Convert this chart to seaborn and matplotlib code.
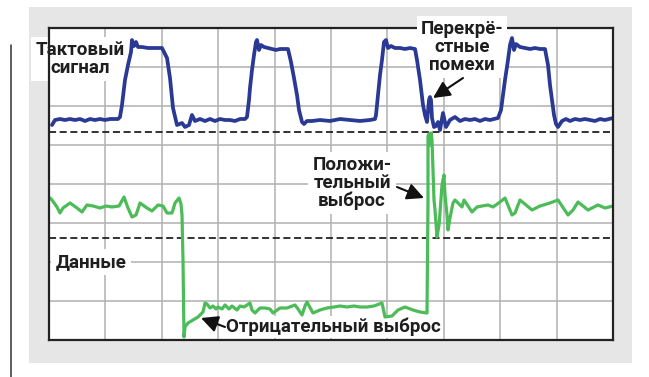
import numpy as np
import pandas as pd
import matplotlib
matplotlib.use("Agg")
import matplotlib.pyplot as plt
from matplotlib.patches import Rectangle
from matplotlib.lines import Line2D
import seaborn as sns

# Oscilloscope capture, samples as (time ns, level mV)
clock_samples = [
    (3, 215), (6, 220), (11, 221), (16, 220), (21, 221), (26, 220), (31, 221),
    (36, 219), (41, 221), (46, 220), (51, 221), (56, 220), (61, 221), (69, 221),
    (71, 223), (73, 235), (76, 260), (79, 275), (82, 288), (83, 300), (85, 294),
    (87, 298), (89, 293), (93, 293), (99, 292), (106, 292), (113, 292), (115, 288),
    (118, 282), (121, 262), (124, 232), (128, 215), (133, 217), (136, 213),
    (140, 215), (143, 225), (146, 219), (151, 221), (156, 219), (161, 221),
    (166, 219), (171, 221), (176, 220), (181, 220), (186, 219), (191, 221),
    (196, 221), (198, 223), (200, 240), (201, 252), (203, 270), (205, 285),
    (207, 298), (208, 300), (210, 290), (212, 295), (215, 293), (219, 292),
    (223, 291), (227, 290), (231, 291), (239, 291), (242, 278), (245, 262),
    (248, 245), (250, 230), (253, 218), (255, 216), (258, 219), (263, 219),
    (271, 220), (281, 219), (291, 221), (301, 220), (311, 219), (321, 220),
    (326, 221), (327, 225), (329, 245), (331, 265), (333, 280), (335, 298),
    (337, 300), (339, 292), (342, 294), (346, 292), (351, 292), (356, 291),
    (361, 292), (366, 291), (368, 280), (371, 260), (374, 235), (376, 225),
    (378, 218), (380, 240), (381, 243), (382, 240), (383, 222), (385, 213),
    (387, 214), (389, 218), (391, 210), (394, 227), (397, 213), (401, 220),
    (406, 223), (411, 219), (416, 221), (421, 220), (426, 221), (431, 219),
    (436, 221), (441, 220), (449, 222), (452, 230), (454, 245), (456, 260),
    (459, 280), (461, 295), (463, 302), (465, 290), (467, 296), (471, 293),
    (476, 292), (481, 291), (486, 292), (491, 291), (496, 291), (499, 275),
    (501, 255), (503, 240), (505, 225), (507, 216), (509, 213), (513, 219),
    (517, 221), (521, 219), (526, 221), (531, 220), (536, 221), (541, 220),
    (546, 219), (551, 221), (556, 220), (564, 222),
]
data_samples = [
    (1, 142), (3, 140), (8, 133), (11, 127), (14, 132), (21, 137), (28, 132),
    (33, 128), (38, 135), (44, 134), (51, 132), (57, 134), (63, 133), (70, 134),
    (75, 143), (79, 132), (83, 123), (87, 125), (91, 137), (98, 132), (103, 129),
    (109, 135), (114, 134), (118, 127), (123, 127), (126, 137), (130, 142),
    (132, 136), (133, 125), (134, 80), (135, 3), (136, 13), (139, 17), (144, 20),
    (149, 23), (154, 28), (156, 37), (158, 36), (161, 32), (164, 34), (167, 31),
    (169, 33), (173, 31), (176, 35), (180, 31), (183, 34), (188, 30), (191, 34),
    (195, 33), (201, 37), (203, 30), (206, 27), (211, 32), (216, 32), (221, 31),
    (224, 27), (231, 32), (238, 32), (246, 35), (249, 31), (253, 25), (256, 34),
    (258, 38), (264, 27), (271, 30), (278, 32), (285, 33), (291, 34), (298, 33),
    (305, 34), (311, 33), (318, 33), (325, 34), (333, 37), (336, 23), (343, 24),
    (349, 30), (356, 33), (364, 30), (371, 28), (378, 27), (379, 140), (379, 204),
    (380, 206), (381, 195), (382, 207), (383, 200), (384, 170), (385, 140),
    (386, 130), (388, 103), (390, 115), (391, 127), (393, 155), (395, 165),
    (396, 145), (398, 125), (399, 110), (401, 122), (404, 137), (406, 140),
    (409, 137), (413, 133), (415, 140), (419, 134), (423, 128), (428, 133),
    (433, 134), (439, 135), (444, 133), (451, 138), (456, 142), (463, 125),
    (466, 127), (471, 140), (477, 135), (483, 130), (491, 134), (501, 137),
    (509, 140), (519, 125), (524, 130), (529, 138), (539, 130), (549, 135),
    (556, 132), (564, 134),
]

# Trigger thresholds (mV) for the two channels
clock_threshold = 208
data_threshold = 102

# Annotation labels
label_clock = "Тактовый\nсигнал"
label_xtalk = "Перекрё-\nстные\nпомехи"
label_pos = "Положи-\nтельный\nвыброс"
label_data = "Данные"
label_neg = "Отрицательный выброс"

BLUE = "#2a3994"
GREEN = "#4cbc58"

sns.set_theme(style="white")
plt.rcParams["font.family"] = ["Roboto", "DejaVu Sans"]

fig = plt.figure(figsize=(6.49, 3.77), dpi=100)
W, H = 649, 377

# light grey panel behind the screen
fig.patches.append(Rectangle((29 / W, 14 / H), 603 / W, 356 / H,
                             transform=fig.transFigure, facecolor="#e6e6e6",
                             edgecolor="none", zorder=-5))
# thin vertical rule at the left margin
fig.add_artist(Line2D([11 / W, 11 / W], [0, 332 / H], color="#333333", lw=1.1,
                      zorder=-5))

ax = fig.add_axes([49 / W, 37 / H, 564 / W, 312 / H])
ax.set_zorder(2)
ax.set_facecolor("white")
ax.set_xlim(0, 564)
ax.set_ylim(0, 312)
ax.set_xticks(np.arange(0, 565, 56.4))
ax.set_yticks(np.arange(0, 313, 39))
ax.tick_params(length=0, labelbottom=False, labelleft=False)
ax.grid(True, color="#b0b0b0", lw=1.1, zorder=1)
ax.set_axisbelow(True)
for name, sp in ax.spines.items():
    sp.set_visible(True)
    sp.set_color("#222222")
    sp.set_linewidth(1.6)
ax.spines["bottom"].set_zorder(8)
ax.spines["left"].set_zorder(8)
ax.spines["right"].set_zorder(8)
ax.spines["top"].set_zorder(2.5)

for th in (clock_threshold, data_threshold):
    ax.axhline(th, color="#222222", lw=1.3, ls=(0, (3.9, 2.0)), zorder=2)

clock_df = pd.DataFrame(clock_samples, columns=["t", "mv"])
data_df = pd.DataFrame(data_samples, columns=["t", "mv"])
sns.lineplot(data=clock_df, x="t", y="mv", estimator=None, sort=False,
             color=BLUE, lw=2.7, ax=ax, zorder=6)
sns.lineplot(data=data_df, x="t", y="mv", estimator=None, sort=False,
             color=GREEN, lw=2.3, ax=ax, zorder=6)
ax.set_xlabel("")
ax.set_ylabel("")

txt_kw = dict(fontsize=13.5, fontweight="bold", color="#1e1e1e",
              ha="center", va="center", linespacing=1.0, clip_on=False, zorder=5)
box = dict(facecolor="white", edgecolor="none", pad=3)

ax.text(31, 281, label_clock, bbox=box, **txt_kw)
ax.text(413, 293, label_xtalk, bbox=box, **txt_kw)
ax.text(303, 157, label_pos, bbox=box, **txt_kw)
ax.text(42, 78, label_data, bbox=box, **txt_kw)
ax.text(284, 13, label_neg, bbox=dict(facecolor="white", edgecolor="none", pad=1.5), **txt_kw)

arrow = dict(arrowstyle="-|>,head_length=0.85,head_width=0.42", color="#111111",
             lw=1.5, shrinkA=0, shrinkB=0)
ax.annotate("", xy=(384, 242), xytext=(414, 262), arrowprops=arrow, zorder=7)
ax.annotate("", xy=(375, 142), xytext=(348, 153), arrowprops=arrow, zorder=7)
ax.annotate("", xy=(152, 22), xytext=(176, 13), arrowprops=arrow, zorder=7)

fig.savefig("out.png", dpi=100, facecolor="white")
